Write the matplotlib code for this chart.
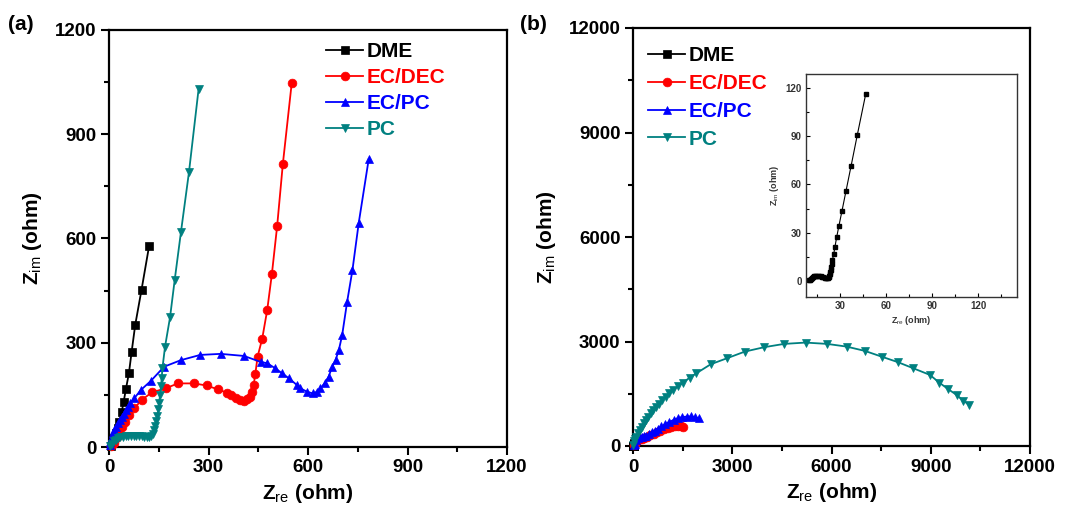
import matplotlib
matplotlib.use("Agg")
import matplotlib.pyplot as plt
from matplotlib.ticker import MultipleLocator

plt.rcParams['font.family'] = ['Liberation Sans', 'DejaVu Sans']
plt.rcParams['font.weight'] = 'bold'
plt.rcParams['mathtext.fontset'] = 'custom'
plt.rcParams['mathtext.rm'] = 'Liberation Sans:normal'
plt.rcParams['mathtext.bf'] = 'Liberation Sans:bold'

# ---------------- data: panel (a) ----------------
dme_a_x = [6, 11, 16, 21, 26, 31, 38, 44, 51, 60, 68, 79, 98, 121]
dme_a_y = [3, 12, 25, 39, 54, 73, 100, 129, 167, 212, 272, 351, 452, 579]

ecdec_a_x = [5, 10, 14, 21, 27, 31, 38, 48, 61, 76, 98, 129, 171, 208, 256, 294, 328, 356,
             369, 384, 396, 406, 416, 424, 431, 436, 441, 448, 462, 477, 491, 507, 524, 551]
ecdec_a_y = [3, 7, 12, 25, 32, 39, 58, 73, 92, 111, 135, 157, 169, 183, 183, 177, 166, 156,
             150, 142, 135, 133, 137, 145, 159, 178, 209, 260, 312, 394, 497, 636, 813, 1048]

ecpc_a_x = [2, 4, 8, 12, 16, 21, 26, 32, 38, 44, 51, 57, 64, 76, 96, 126, 166, 217, 275,
            337, 407, 457, 477, 502, 522, 542, 567, 577, 597, 615, 627, 637, 650, 662,
            673, 683, 693, 703, 718, 734, 753, 783]
ecpc_a_y = [6, 15, 30, 40, 49, 58, 68, 77, 87, 96, 106, 116, 126, 140, 164, 190, 231, 250,
            265, 268, 262, 245, 241, 226, 212, 198, 178, 169, 159, 154, 159, 169, 183, 202,
            231, 250, 279, 322, 418, 509, 645, 828]

pc_a_x = [3, 8, 14, 20, 27, 34, 42, 50, 58, 66, 74, 82, 90, 98, 106, 114, 121, 127,
          132, 136, 140, 143, 146, 149, 151, 154, 157, 159, 161, 169, 184, 198, 217, 241, 270]
pc_a_y = [3, 10, 16, 21, 25, 28, 30, 31, 32, 32, 32, 32, 31, 31, 30, 30, 30, 32,
          38, 48, 60, 74, 90, 108, 126, 150, 175, 200, 226, 289, 373, 480, 619, 790, 1029]

# ---------------- data: panel (b) ----------------
dme_b_x = [10, 10.5, 11, 11.6, 12.3, 13, 13.8, 14.6, 15.5, 16.4, 17.3, 18.2, 19.1, 20,
           20.8, 21.5, 22.1, 22.6, 23.0, 23.4, 23.7, 24.0, 24.3, 24.6, 25.0, 25.9, 26.7,
           27.8, 29.3, 31.3, 33.9, 37.2, 41.3, 46.8]
dme_b_y = [0.3, 0.8, 1.3, 1.9, 2.4, 2.8, 3.1, 3.3, 3.3, 3.2, 3.0, 2.7, 2.4, 2.1,
           1.9, 1.8, 1.9, 2.3, 3.0, 4.0, 5.3, 6.8, 8.5, 10.5, 13, 16.8, 21.3,
           27.2, 34.4, 43.7, 56, 71.5, 91, 116.5]

ecdec_b_x = [30, 60, 100, 150, 200, 260, 330, 420, 520, 620, 720, 830, 940, 1050,
             1160, 1270, 1370, 1450, 1510]
ecdec_b_y = [30, 70, 120, 160, 190, 215, 240, 270, 310, 350, 395, 440, 480, 515,
             545, 565, 570, 560, 540]

ecpc_b_x = [30, 60, 100, 150, 200, 260, 330, 400, 480, 560, 650, 750, 860, 980,
            1100, 1230, 1360, 1490, 1620, 1750, 1880, 2000]
ecpc_b_y = [20, 60, 160, 230, 260, 270, 280, 300, 340, 390, 440, 500, 560, 630,
            690, 750, 800, 830, 845, 850, 830, 790]

pc_b_x = [10, 40, 70, 103, 150, 203, 260, 324, 390, 454, 530, 605, 690, 787, 885, 989,
          1100, 1210, 1360, 1513, 1710, 1917, 2350, 2844, 3379,
          3963, 4568, 5215, 5869, 6455, 7009, 7514, 8016, 8470, 8975, 9257, 9530,
          9782, 9983, 10164]
pc_b_y = [40, 150, 210, 267, 360, 460, 555, 652, 750, 842, 940, 1035, 1120, 1207, 1315, 1417,
          1515, 1610, 1720, 1820, 1960, 2089, 2347, 2520, 2710,
          2836, 2931, 2969, 2931, 2854, 2730, 2566, 2404, 2232, 2041, 1820, 1630,
          1466, 1302, 1178]

labels = ['DME', 'EC/DEC', 'EC/PC', 'PC']
colors = ['#000000', '#FF0000', '#0000FF', '#008080']
markers = ['s', 'o', '^', 'v']

W, H = 1065, 517
fig = plt.figure(figsize=(W / 100, H / 100), dpi=100)

ax_a = fig.add_axes([109 / W, 1 - 447 / H, 398 / W, 417 / H])
ax_b = fig.add_axes([633 / W, 1 - 446 / H, 397 / W, 418 / H])


def style_main(ax, lim, major, minor):
    ax.set_xlim(0, lim)
    ax.set_ylim(0, lim)
    ax.xaxis.set_major_locator(MultipleLocator(major))
    ax.yaxis.set_major_locator(MultipleLocator(major))
    ax.xaxis.set_minor_locator(MultipleLocator(minor))
    ax.yaxis.set_minor_locator(MultipleLocator(minor))
    ax.tick_params(which='both', direction='out', top=False, right=False,
                   width=1.5)
    ax.tick_params(which='major', length=6, labelsize=13.5, pad=3)
    ax.tick_params(which='minor', length=3.5)
    for lab in ax.get_xticklabels() + ax.get_yticklabels():
        lab.set_fontweight('bold')
    for s in ax.spines.values():
        s.set_linewidth(1.6)
    ax.set_xlabel(r'$\mathbf{Z}_{\mathrm{re}}$ (ohm)', fontsize=15,
                  fontweight='bold', labelpad=4)
    ax.set_ylabel(r'$\mathbf{Z}_{\mathrm{im}}$ (ohm)', fontsize=15,
                  fontweight='bold', labelpad=8)


series_a = [(dme_a_x, dme_a_y), (ecdec_a_x, ecdec_a_y), (ecpc_a_x, ecpc_a_y), (pc_a_x, pc_a_y)]
series_b = [(dme_b_x, dme_b_y), (ecdec_b_x, ecdec_b_y), (ecpc_b_x, ecpc_b_y), (pc_b_x, pc_b_y)]

for ax, series in ((ax_a, series_a), (ax_b, series_b)):
    for (xs, ys), lab, c, m in zip(series, labels, colors, markers):
        ax.plot(xs, ys, color=c, marker=m, markersize=6.3, linewidth=1.3,
                markeredgewidth=0.5, label=lab, clip_on=False, zorder=3)

style_main(ax_a, 1200, 300, 150)
style_main(ax_b, 12000, 3000, 1500)


def legend(ax, anchor, spacing):
    leg = ax.legend(loc='upper left', bbox_to_anchor=anchor, frameon=False,
                    fontsize=15, handlelength=1.75, handletextpad=0.2,
                    labelspacing=spacing, borderaxespad=0)
    for t, c in zip(leg.get_texts(), colors):
        t.set_color(c)
        t.set_fontweight('bold')
    return leg


legend(ax_a, ((318 - 109) / 398, (447 - 34) / 417), 0.33)
legend(ax_b, ((640 - 633) / 397, (446 - 38) / 418), 0.42)

fig.text(8 / W, 1 - 30 / H, '(a)', fontsize=15, fontweight='bold', va='baseline')
fig.text(520 / W, 1 - 30 / H, '(b)', fontsize=15, fontweight='bold', va='baseline')

# inset
ax_in = fig.add_axes([806 / W, 1 - 297 / H, 211 / W, 223 / H])
ax_in.plot(dme_b_x, dme_b_y, color='black', marker='s', markersize=3,
           linewidth=0.8)
ax_in.set_xlim(7.8, 145.4)
ax_in.set_ylim(-10, 128.7)
ax_in.xaxis.set_major_locator(MultipleLocator(30))
ax_in.yaxis.set_major_locator(MultipleLocator(30))
ax_in.xaxis.set_minor_locator(MultipleLocator(15))
ax_in.yaxis.set_minor_locator(MultipleLocator(15))
ax_in.tick_params(which='both', direction='in', top=False, right=False, width=0.8)
ax_in.tick_params(which='major', length=3, labelsize=7, pad=3)
ax_in.tick_params(which='minor', length=2)
for lab in ax_in.get_xticklabels() + ax_in.get_yticklabels():
    lab.set_fontweight('bold')
    lab.set_color('#333333')
for s in ax_in.spines.values():
    s.set_linewidth(1.0)
    s.set_color('#333333')
ax_in.set_xlabel(r'$\mathbf{Z}_{\mathrm{re}}$ (ohm)', fontsize=6.5, fontweight='bold',
                 labelpad=2, color='#333333')
ax_in.set_ylabel(r'$\mathbf{Z}_{\mathrm{im}}$ (ohm)', fontsize=6.5, fontweight='bold',
                 labelpad=3, color='#333333')

fig.savefig('out.png', dpi=100)
